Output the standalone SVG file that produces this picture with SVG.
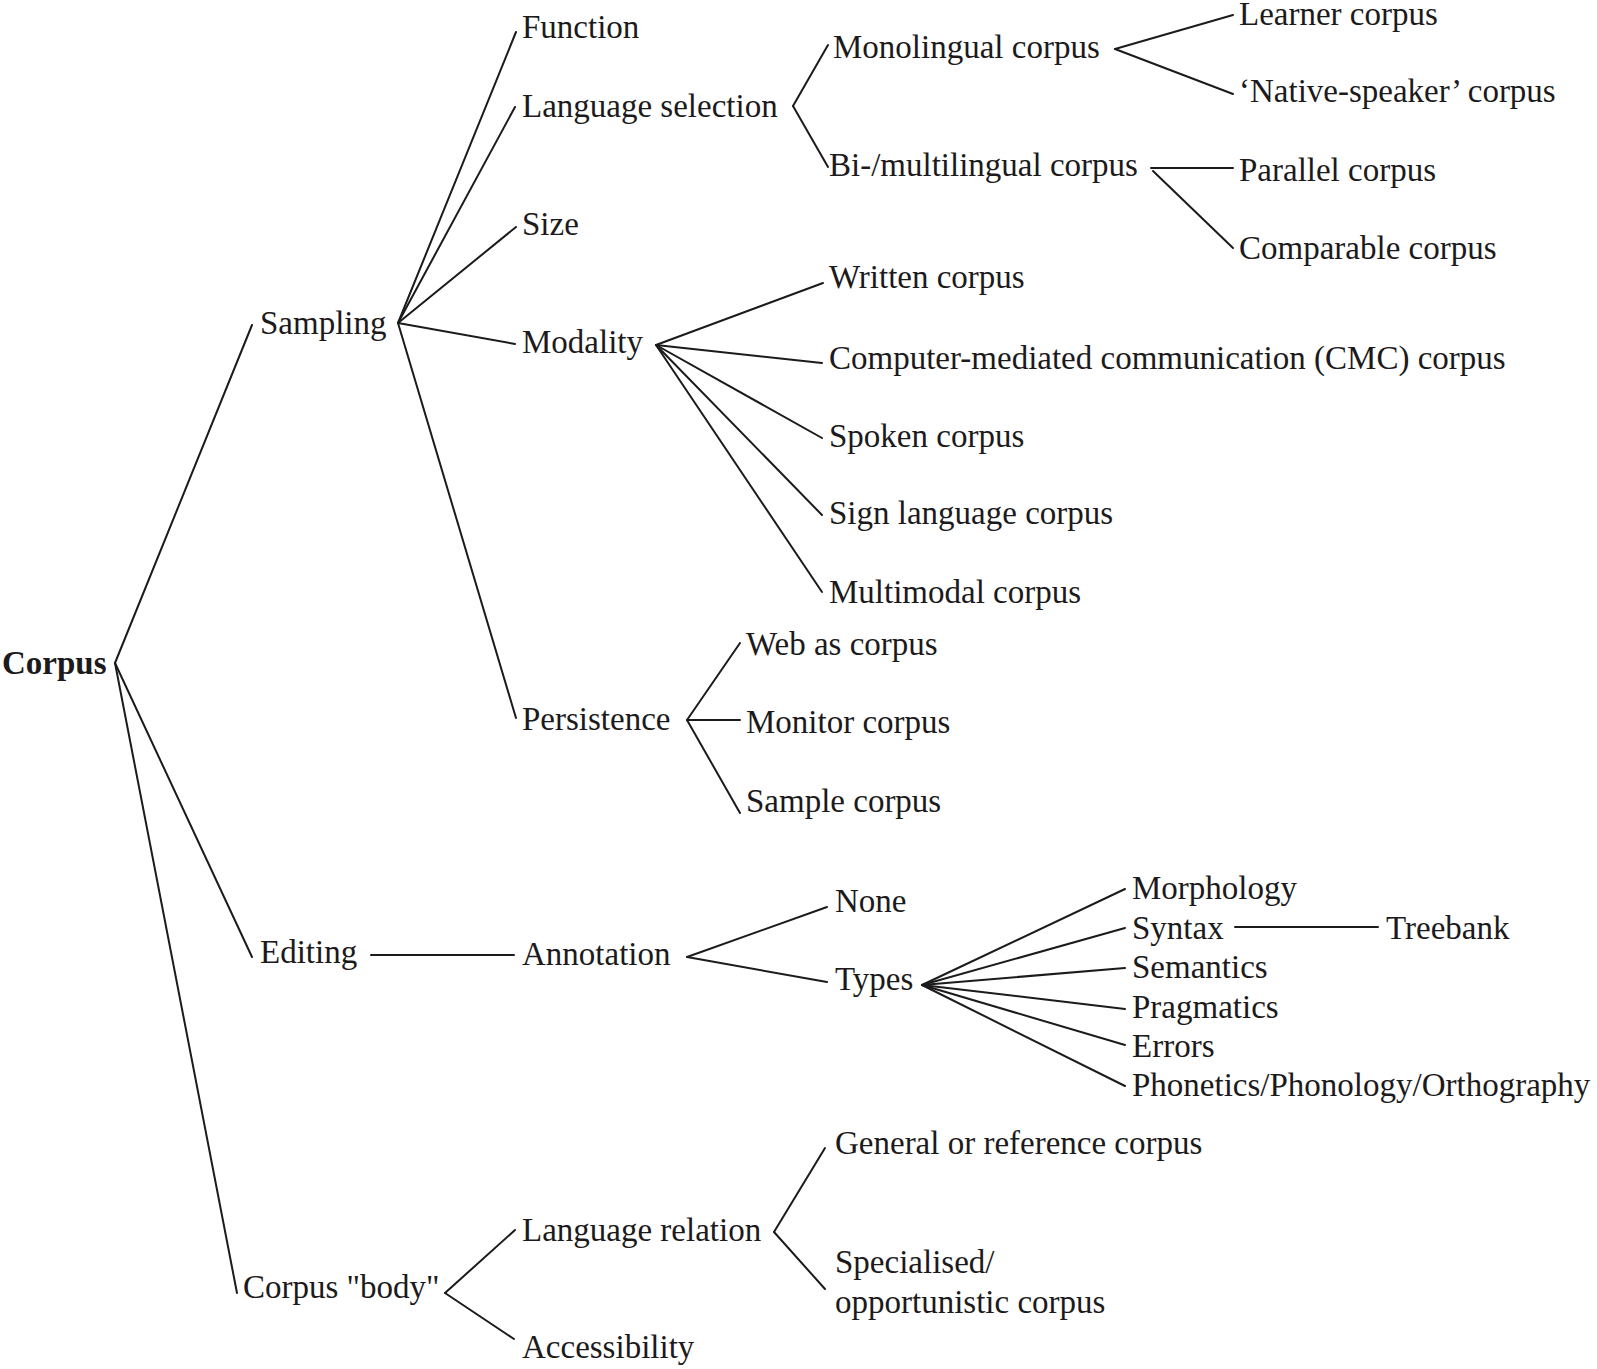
<svg xmlns="http://www.w3.org/2000/svg" width="1597" height="1369" viewBox="0 0 1597 1369">
<style>
text{font-family:"Liberation Serif","Times New Roman",serif;font-size:33px;fill:#1c1a1b}
.b{font-weight:bold}
#connectors line{stroke:#1c1a1b;stroke-width:2;stroke-linecap:round}
</style>
<rect width="1597" height="1369" fill="#fff"/>
<g id="connectors">
<line x1="115" y1="663" x2="252" y2="325"/>
<line x1="115" y1="663" x2="252" y2="957"/>
<line x1="115" y1="663" x2="237" y2="1293"/>
<line x1="398" y1="323" x2="516" y2="32"/>
<line x1="398" y1="323" x2="515" y2="107"/>
<line x1="398" y1="323" x2="516" y2="227"/>
<line x1="398" y1="323" x2="515" y2="344"/>
<line x1="398" y1="323" x2="516" y2="718"/>
<line x1="793" y1="106" x2="828" y2="45"/>
<line x1="793" y1="106" x2="828" y2="167"/>
<line x1="1115" y1="49" x2="1233" y2="15"/>
<line x1="1115" y1="49" x2="1233" y2="94"/>
<line x1="1151" y1="168" x2="1233" y2="168"/>
<line x1="1153" y1="171" x2="1233" y2="248"/>
<line x1="656" y1="345" x2="823" y2="283"/>
<line x1="656" y1="345" x2="822" y2="363"/>
<line x1="656" y1="345" x2="822" y2="438"/>
<line x1="656" y1="345" x2="822" y2="515"/>
<line x1="656" y1="345" x2="822" y2="592"/>
<line x1="687" y1="720" x2="740" y2="643"/>
<line x1="687" y1="720" x2="740" y2="720"/>
<line x1="687" y1="720" x2="740" y2="813"/>
<line x1="371" y1="955" x2="514" y2="955"/>
<line x1="687" y1="957" x2="827" y2="907"/>
<line x1="687" y1="957" x2="827" y2="982"/>
<line x1="922" y1="985" x2="1125" y2="889"/>
<line x1="922" y1="985" x2="1125" y2="928"/>
<line x1="922" y1="985" x2="1125" y2="968"/>
<line x1="922" y1="985" x2="1125" y2="1009"/>
<line x1="922" y1="985" x2="1125" y2="1045"/>
<line x1="922" y1="985" x2="1125" y2="1086"/>
<line x1="1235" y1="927" x2="1378" y2="927"/>
<line x1="445" y1="1293" x2="515" y2="1230"/>
<line x1="445" y1="1293" x2="514" y2="1339"/>
<line x1="774" y1="1232" x2="825" y2="1148"/>
<line x1="774" y1="1232" x2="825" y2="1289"/>
</g>
<g id="n-corpus"><text class="b" x="2" y="674">Corpus</text></g>
<g id="n-sampling"><text x="260" y="334">Sampling</text></g>
<g id="n-editing"><text x="260" y="963">Editing</text></g>
<g id="n-body"><text x="243" y="1298">Corpus "body"</text></g>
<g id="n-function"><text x="522" y="38">Function</text></g>
<g id="n-langsel"><text x="522" y="117">Language selection</text></g>
<g id="n-size"><text x="522" y="235">Size</text></g>
<g id="n-modality"><text x="522" y="353">Modality</text></g>
<g id="n-persistence"><text x="522" y="730">Persistence</text></g>
<g id="n-annotation"><text x="522" y="965">Annotation</text></g>
<g id="n-langrel"><text x="522" y="1241">Language relation</text></g>
<g id="n-access"><text x="522" y="1358">Accessibility</text></g>
<g id="n-mono"><text x="833" y="58">Monolingual corpus</text></g>
<g id="n-bi"><text x="829" y="176">Bi-/multilingual corpus</text></g>
<g id="n-learner"><text x="1239" y="25">Learner corpus</text></g>
<g id="n-native"><text x="1239" y="102">‘Native-speaker’ corpus</text></g>
<g id="n-parallel"><text x="1239" y="181">Parallel corpus</text></g>
<g id="n-comparable"><text x="1239" y="259">Comparable corpus</text></g>
<g id="n-written"><text x="829" y="288">Written corpus</text></g>
<g id="n-cmc"><text x="829" y="369">Computer-mediated communication (CMC) corpus</text></g>
<g id="n-spoken"><text x="829" y="447">Spoken corpus</text></g>
<g id="n-sign"><text x="829" y="524">Sign language corpus</text></g>
<g id="n-multimodal"><text x="829" y="603">Multimodal corpus</text></g>
<g id="n-web"><text x="746" y="655">Web as corpus</text></g>
<g id="n-monitor"><text x="746" y="733">Monitor corpus</text></g>
<g id="n-sample"><text x="746" y="812">Sample corpus</text></g>
<g id="n-none"><text x="835" y="912">None</text></g>
<g id="n-types"><text x="835" y="990">Types</text></g>
<g id="n-morph"><text x="1132" y="899">Morphology</text></g>
<g id="n-syntax"><text x="1132" y="939">Syntax</text></g>
<g id="n-treebank"><text x="1386" y="939">Treebank</text></g>
<g id="n-semantics"><text x="1132" y="978">Semantics</text></g>
<g id="n-pragmatics"><text x="1132" y="1018">Pragmatics</text></g>
<g id="n-errors"><text x="1132" y="1057">Errors</text></g>
<g id="n-phon"><text x="1132" y="1096">Phonetics/Phonology/Orthography</text></g>
<g id="n-general"><text x="835" y="1154">General or reference corpus</text></g>
<g id="n-special"><text x="835" y="1273">Specialised/</text><text x="835" y="1313">opportunistic corpus</text></g>
</svg>
